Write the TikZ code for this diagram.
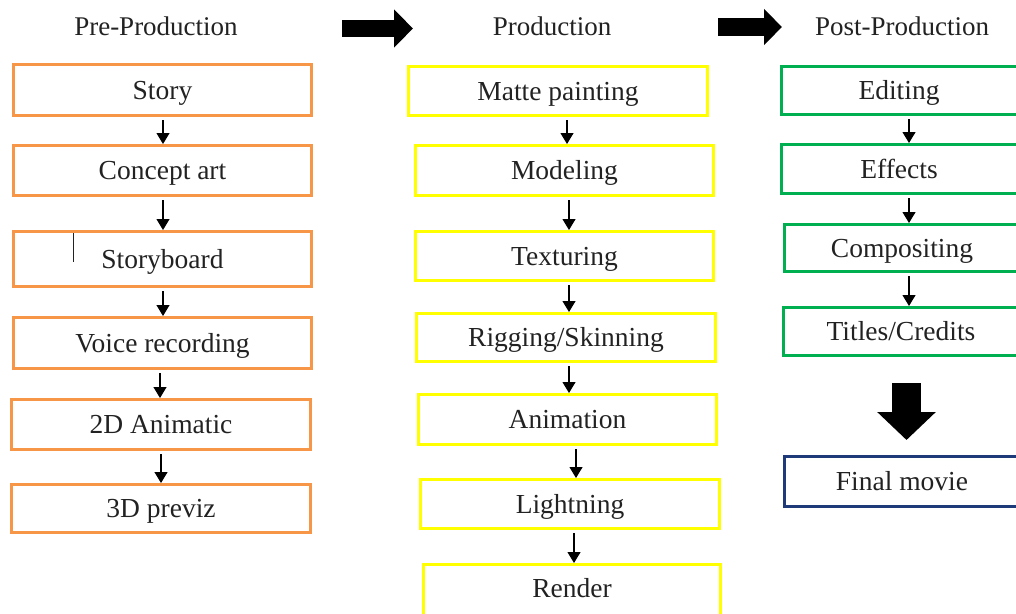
\documentclass[tikz,border=0pt]{standalone}
\usepackage{fontspec}
\setmainfont{Liberation Serif}
\usetikzlibrary{arrows.meta}
\definecolor{preor}{HTML}{F79646}
\definecolor{proye}{HTML}{FFFF00}
\definecolor{postgr}{HTML}{00B050}
\definecolor{finnavy}{HTML}{1F3A78}
\definecolor{txt}{HTML}{222222}
\tikzset{
  box/.style={draw, line width=3pt, inner sep=0pt, text=txt,
    text height=22pt, text depth=4pt,
    font=\fontsize{27.5}{30}\selectfont},
  prebox/.style={box, draw=preor},
  probox/.style={box, draw=proye},
  postbox/.style={box, draw=postgr},
  finbox/.style={box, draw=finnavy},
  title/.style={text=txt, font=\fontsize{27}{30}\selectfont},
  flow/.style={line width=1.2pt, -{Triangle[length=11pt,width=13pt]}},
  bigarrow/.style={line width=17pt, -{Triangle[length=19pt,width=37pt]}},
}
\newcommand{\boxat}[7]{% style, name, x1, y1, x2, y2, text
  \node[#1, minimum width={(#5)-(#3)-3}, minimum height={(#6)-(#4)-3}, anchor=center]
    (#2) at ({((#3)+(#5))/2},{((#4)+(#6))/2}) {#7};}
\newcommand{\flowx}[3]{% x, from, to
  \draw[flow] (#1,0 |- #2.south) ++(0,3) coordinate (fs-#2) -- (fs-#2 |- #3.north);}
\begin{document}
\begin{tikzpicture}[x=1pt,y=-1pt]
\useasboundingbox (0,0) rectangle (1016,613);
% titles
\node[title] (tpre) at (156,26) {Pre-Production};
\node[title] (tpro) at (552,26) {Production};
\node[title] (tpost) at (902,26) {Post-Production};
% pre-production
\boxat{prebox}{story}{12}{63}{313}{117}{Story}
\boxat{prebox}{concept}{12}{144}{313}{197}{Concept art}
\boxat{prebox}{sboard}{12}{230}{313}{288}{Storyboard}
\boxat{prebox}{voice}{12}{316}{313}{370}{Voice recording}
\boxat{prebox}{anim2d}{10}{398}{312}{451}{2D Animatic}
\boxat{prebox}{previz}{10}{483}{312}{534}{3D previz}
\coordinate (bar1) at (73,233);
\coordinate (bar2) at (73,262);
\draw[line width=1pt, txt] (bar1) -- (bar2);
% production
\boxat{probox}{matte}{407}{65}{709}{117}{Matte painting}
\boxat{probox}{model}{414}{144}{715}{197}{Modeling}
\boxat{probox}{textur}{414}{230}{715}{282}{Texturing}
\boxat{probox}{rig}{415}{312}{717}{363}{Rigging/Skinning}
\boxat{probox}{animp}{417}{393}{718}{446}{Animation}
\boxat{probox}{light}{419}{478}{721}{530}{Lightning}
\boxat{probox}{render}{422}{563}{722}{618}{\raisebox{2pt}{Render}}
% post-production
\boxat{postbox}{edit}{780}{65}{1030}{116}{\hspace*{-12pt}Editing}
\boxat{postbox}{effect}{780}{143}{1030}{195}{\hspace*{-12pt}Effects}
\boxat{postbox}{compos}{783}{223}{1033}{273}{\hspace*{-12pt}Compositing}
\boxat{postbox}{titles}{782}{306}{1032}{357}{\hspace*{-12pt}Titles/Credits}
\boxat{finbox}{final}{783}{455}{1033}{508}{\hspace*{-12pt}Final movie}
% small flow arrows
\flowx{163}{story}{concept}
\flowx{163}{concept}{sboard}
\flowx{163}{sboard}{voice}
\flowx{160}{voice}{anim2d}
\flowx{161}{anim2d}{previz}
\flowx{567}{matte}{model}
\flowx{569}{model}{textur}
\flowx{569}{textur}{rig}
\flowx{569}{rig}{animp}
\flowx{576}{animp}{light}
\flowx{574}{light}{render}
\flowx{909}{edit}{effect}
\flowx{909}{effect}{compos}
\flowx{909}{compos}{titles}
% big arrows
\coordinate (a1s) at (342,28.5);
\coordinate (a1e) at (413,28.5);
\coordinate (a2s) at (718,27);
\coordinate (a2e) at (782,27);
\draw[bigarrow] (a1s) -- (a1e);
\draw[bigarrow, line width=18pt, -{Triangle[length=18pt,width=35pt]}] (a2s) -- (a2e);
\coordinate (a3s) at (906.5,383);
\coordinate (a3e) at (906.5,440);
\draw[line width=29pt, -{Triangle[length=28pt,width=57pt]}] (a3s) -- (a3e);
\end{tikzpicture}
\end{document}
